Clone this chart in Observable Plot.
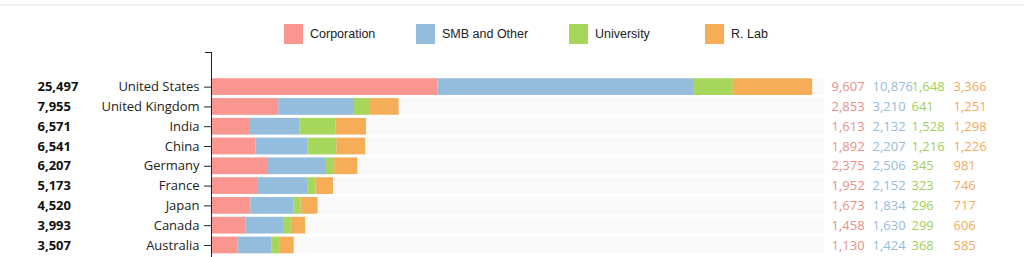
<!DOCTYPE html>
<html>
<head>
<meta charset="utf-8">
<script src="https://cdn.jsdelivr.net/npm/d3@7"></script>
<script src="https://cdn.jsdelivr.net/npm/@observablehq/plot@0.6"></script>
<style>
  html, body { margin: 0; padding: 0; background: #fff; }
  #wrap { position: relative; width: 1024px; height: 257px; overflow: hidden; }
  #topline { position: absolute; left: 0; top: 4px; width: 1024px; height: 2px; background: #f2f2f2; }
  #legend { position: relative; height: 50px; font-family: "Liberation Sans", Arial, sans-serif; font-size: 12.5px; color: #222; }
  .item { position: absolute; top: 24px; display: flex; align-items: center; height: 20px; }
  .sw { width: 19px; height: 20px; margin-right: 7px; }
  #chart svg { display: block; }
</style>
</head>
<body>
<div id="wrap">
  <div id="topline"></div>
  <div id="legend"></div>
  <div id="chart"></div>
</div>
<script>
const countries = ["United States", "United Kingdom", "India", "China", "Germany", "France", "Japan", "Canada", "Australia"];
const categories = ["Corporation", "SMB and Other", "University", "R. Lab"];
const corporation = [9607, 2853, 1613, 1892, 2375, 1952, 1673, 1458, 1130];
const smbOther = [10876, 3210, 2132, 2207, 2506, 2152, 1834, 1630, 1424];
const university = [1648, 641, 1528, 1216, 345, 323, 296, 299, 368];
const rLab = [3366, 1251, 1298, 1226, 981, 746, 717, 606, 585];
const totals = [25497, 7955, 6571, 6541, 6207, 5173, 4520, 3993, 3507];

const barColors = ["#f8968f", "#94bcdc", "#a6d75a", "#f5ad57"];
const textColors = ["#e98f8b", "#97badb", "#a3cf5a", "#f2ab5c"];
const legendLeft = [284, 416, 569, 705];
const xMax = 26000;

const series = [corporation, smbOther, university, rLab];
const long = [];
countries.forEach((c, i) => {
  categories.forEach((cat, j) => {
    long.push({country: c, category: cat, value: series[j][i]});
  });
});
const rows = countries.map((c, i) => ({country: c, total: totals[i], corp: corporation[i], smb: smbOther[i], uni: university[i], lab: rLab[i]}));
const fmt = d3.format(",");

// Legend
const legend = document.getElementById("legend");
categories.forEach((cat, j) => {
  const it = document.createElement("div");
  it.className = "item";
  it.style.left = legendLeft[j] + "px";
  it.innerHTML = `<div class="sw" style="background:${barColors[j]}"></div><span>${cat}</span>`;
  legend.appendChild(it);
});

const font = "'Open Sans', 'Noto Sans', sans-serif";
const colDx = [7, 48, 87, 129];
const colKeys = ["corp", "smb", "uni", "lab"];

const chart = Plot.plot({
  width: 1024,
  height: 207,
  marginTop: 2,
  marginBottom: 0,
  marginLeft: 211,
  marginRight: 200,
  style: {fontFamily: font, fontSize: "13px", color: "#222", background: "transparent"},
  x: {domain: [0, xMax], axis: null},
  y: {domain: countries, paddingInner: 0.156, paddingOuter: 0.757, align: 0.877, round: false, label: null},
  color: {domain: categories, range: barColors},
  marks: [
    Plot.barX(countries, {x1: 0, x2: () => xMax, y: d => d, fill: "#f9f9f9"}),
    Plot.barX(long, Plot.stackX({x: "value", y: "country", fill: "category", order: null})),
    Plot.axisY({tickSize: 7, tickPadding: 5, fontSize: 13, fill: "#222", stroke: "#222", label: null}),
    Plot.frame({anchor: "left", stroke: "#222"}),
    Plot.frame({anchor: "top", stroke: "#222", insetLeft: -6, insetRight: 613}),
    Plot.text(rows, {frameAnchor: "left", y: "country", text: d => fmt(d.total), dx: -174, textAnchor: "start", fontWeight: "bold", fill: "#111", fontSize: 13}),
    ...colKeys.map((k, j) => Plot.text(rows, {frameAnchor: "right", y: "country", text: d => fmt(d[k]), dx: colDx[j], textAnchor: "start", fill: textColors[j], fontSize: 13}))
  ]
});
document.getElementById("chart").appendChild(chart);
</script>
</body>
</html>
